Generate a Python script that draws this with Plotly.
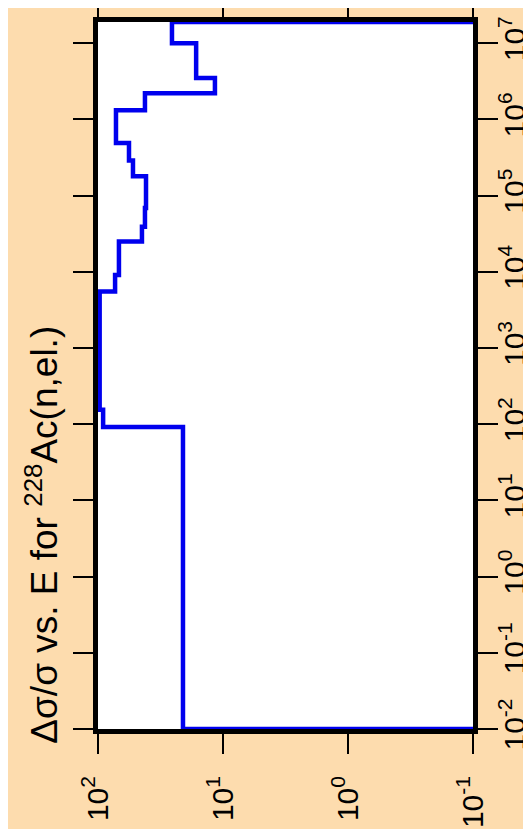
import numpy as np
import plotly.graph_objects as go

# Energy group boundaries (eV), low -> high
energy_edges = [1e-2, 92, 155, 5.5e3, 9.1e3, 2.5e4, 3.9e4, 6.9e4, 1.8e5, 2.9e5,
                4.9e5, 1.32e6, 2.2e6, 3.5e6, 1e7, 1.9e7]
# Relative uncertainty (%) within each group
rel_unc = [20.9, 91, 97, 73, 68, 44.5, 42.1, 41.3, 52.5, 56.5,
           71.8, 42.1, 11.6, 16.4, 25.6]
# histogram drops to the axis floor at both ends
floor_value = 0.1

x_ticks = [100, 10, 1, 0.1]
x_ticktext = ["10<sup>2</sup>", "10<sup>1</sup>", "10<sup>0</sup>", "10<sup>-1</sup>"]
y_exponents = [-2, -1, 0, 1, 2, 3, 4, 5, 6, 7]

# build step path
xs, ys = [floor_value], [energy_edges[0]]
for i, v in enumerate(rel_unc):
    xs += [v, v]
    ys += [energy_edges[i], energy_edges[i + 1]]
xs.append(floor_value)
ys.append(energy_edges[-1])

fig = go.Figure()
fig.add_trace(go.Scatter(x=xs, y=ys, mode="lines",
                         line=dict(color="#0000ee", width=4.5),
                         cliponaxis=False, hoverinfo="skip"))

font_family = "Liberation Sans, Arial, sans-serif"
fig.update_layout(
    width=523, height=821,
    margin=dict(l=90, r=58, t=14, b=100, autoexpand=False),
    paper_bgcolor="#fddcae",
    plot_bgcolor="white",
    showlegend=False,
    font=dict(family=font_family, color="black", size=30),
    xaxis=dict(type="log", range=[2, -1], tickvals=x_ticks, ticktext=x_ticktext,
               tickangle=-90, ticks="outside", ticklen=20, tickwidth=2, tickcolor="black",
               showline=True, linewidth=5, linecolor="black", mirror="allticks",
               showgrid=False, zeroline=False, layer="below traces", automargin=False,
               ticklabelstandoff=10,
               tickfont=dict(size=30, family=font_family)),
    yaxis=dict(type="log", range=[-2, np.log10(energy_edges[-1])],
               tickvals=[10.0 ** e for e in y_exponents],
               ticktext=["10<sup>%d</sup>" % e for e in y_exponents],
               side="right", tickangle=-90, ticks="outside", ticklen=20, tickwidth=2,
               tickcolor="black", showline=True, linewidth=5, linecolor="black",
               mirror="allticks", showgrid=False, zeroline=False, layer="below traces",
               automargin=False, ticklabelstandoff=-9,
               tickfont=dict(size=30, family=font_family)),
    annotations=[dict(text="Δσ/σ vs. E for <sup>228</sup>Ac(n,el.)",
                      xref="paper", yref="paper", x=-0.149, y=0.275,
                      xanchor="center", yanchor="middle", textangle=-90,
                      showarrow=False, font=dict(size=37, family=font_family))],
)

fig.write_html("out.html", config={"displayModeBar": False})
